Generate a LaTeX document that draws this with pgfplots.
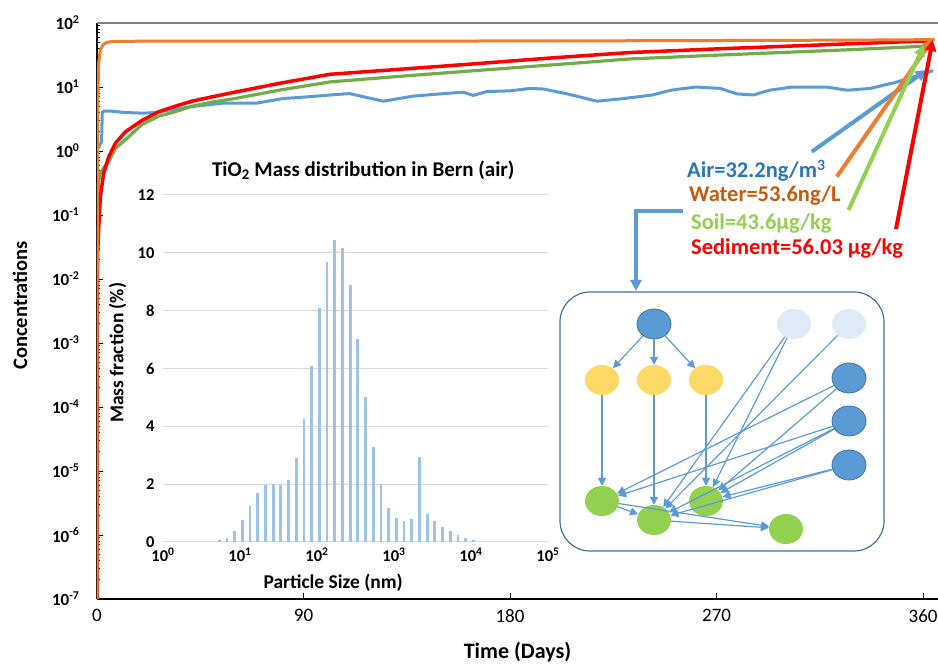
\documentclass[border=0pt]{standalone}
\usepackage{fontspec}
\setmainfont{Carlito}
\usepackage{pgfplots}
\pgfplotsset{compat=1.18}
\usetikzlibrary{arrows.meta,shapes.geometric}

\definecolor{airblue}{HTML}{5B9BD5}
\definecolor{airtext}{HTML}{2E75B6}
\definecolor{waterorange}{HTML}{ED7D31}
\definecolor{watertext}{HTML}{C55A11}
\definecolor{soilgreen}{HTML}{70AD47}
\definecolor{soillight}{HTML}{92D050}
\definecolor{sedred}{HTML}{FF0000}
\definecolor{barblue}{HTML}{9DC3E6}
\definecolor{paleblue}{HTML}{DEEBF7}
\definecolor{nodeyellow}{HTML}{FFD966}
\definecolor{edgeblue}{HTML}{41719C}
\definecolor{gridgray}{HTML}{D9D9D9}

\begin{document}
\begin{tikzpicture}[x=1pt,y=1pt]
\useasboundingbox (0,0) rectangle (938,664);

% ---------------- main time series (log scale) ----------------
\begin{axis}[
  name=main,
  at={(97pt,65pt)}, anchor=south west,
  scale only axis, width=841pt, height=576pt,
  xmin=0, xmax=366.5,
  ymode=log, ymin=1e-7, ymax=1e2,
  axis x line*=bottom, axis y line*=left,
  x axis line style={-, line width=2pt, black},
  y axis line style={-, line width=1.5pt, black},
  tick align=inside,
  major tick length=6pt, minor tick length=3.5pt,
  every tick/.style={black, line width=1pt},
  xtick={0,90,180,270,360},
  xticklabels={0,90,180,270,360},
  xticklabel style={font=\fontsize{19}{22}\selectfont, yshift=-7pt},
  ytick={1e-7,1e-6,1e-5,1e-4,1e-3,1e-2,1e-1,1,10,100},
  yticklabels={10\textsuperscript{-7},10\textsuperscript{-6},10\textsuperscript{-5},10\textsuperscript{-4},10\textsuperscript{-3},10\textsuperscript{-2},10\textsuperscript{-1},10\textsuperscript{0},10\textsuperscript{1},10\textsuperscript{2}},
  yticklabel style={font=\bfseries\fontsize{17}{20}\selectfont, xshift=-14pt},
  minor ytick={2e-7,3e-7,4e-7,5e-7,6e-7,7e-7,8e-7,9e-7,
               2e-6,3e-6,4e-6,5e-6,6e-6,7e-6,8e-6,9e-6,
               2e-5,3e-5,4e-5,5e-5,6e-5,7e-5,8e-5,9e-5,
               2e-4,3e-4,4e-4,5e-4,6e-4,7e-4,8e-4,9e-4,
               2e-3,3e-3,4e-3,5e-3,6e-3,7e-3,8e-3,9e-3,
               2e-2,3e-2,4e-2,5e-2,6e-2,7e-2,8e-2,9e-2,
               0.2,0.3,0.4,0.5,0.6,0.7,0.8,0.9,
               2,3,4,5,6,7,8,9,
               20,30,40,50,60,70,80,90},
  xlabel={Time (Days)},
  xlabel style={font=\bfseries\fontsize{22}{26}\selectfont, at={(axis description cs:0.5,-0.092)}, anchor=center},
  ylabel={Concentrations},
  ylabel style={font=\bfseries\fontsize{20.5}{24}\selectfont, at={(axis description cs:-0.0916,0.51)}, anchor=center},
]
% Air
\addplot[airblue, line width=3pt, line join=round] coordinates {
 (0.6,1.1) (1.5,1.3) (2.0,1.4) (2.3,4.0) (3,4.2) (6,4.2) (12,4.0) (20,3.9)
 (26,4.0) (32,4.4) (40.5,4.9) (55,5.6) (69.6,5.6) (81,6.6) (91.4,7.0)
 (101.5,7.5) (110,7.9) (118,6.8) (124.8,6.0) (137.7,7.2) (149.5,7.8)
 (159.6,8.3) (164,7.4) (170,8.5) (180,8.7) (188.7,9.5) (194.5,9.3)
 (205,7.8) (217.9,6.0) (228,6.5) (242,7.5) (250,8.9) (261,10) (271.5,9.5)
 (279,7.8) (286,7.5) (293,8.9) (303,10) (318,10) (327,8.9) (337,9.5)
 (348.7,12) (358.7,15.5) (364.4,18)
};
% Soil
\addplot[soilgreen, line width=3.2pt, line join=round] coordinates {
 (0,1e-7) (0.03,1e-4) (0.08,5e-3) (0.2,0.05) (0.4,0.2) (0.7,0.33) (1.2,0.42)
 (2.2,0.5) (3.5,0.58) (5.1,0.68) (8,1.1) (12.4,1.5) (19.6,2.6) (26.9,3.5)
 (34,4.1) (41.4,5.0) (50,5.8) (60,6.6) (80,9.0) (101.5,12.0) (130,14.5)
 (160,17.5) (200,22.4) (232,27.4) (270,31.4) (300,34.8) (330,38.5) (362,43.6)
};
% Sediment
\addplot[sedred, line width=3.5pt, line join=round] coordinates {
 (0,1e-7) (0.03,1e-5) (0.06,1e-3) (0.1,7e-3) (0.3,0.025) (0.7,0.059)
 (1.45,0.19) (2.9,0.45) (5.1,0.81) (8,1.32) (12.4,2.0) (19.6,3.0) (26.9,4.1)
 (34,5.0) (41.4,6.0) (50,7.0) (60,8.3) (80,11.5) (101.5,15.8) (130,18.7)
 (160,22.4) (200,28.8) (232,34.5) (270,39.4) (300,43.3) (330,47.6) (363,52.7)
};
% Water
\addplot[waterorange, line width=3pt, line join=round] coordinates {
 (0,1e-7) (0.05,1e-4) (0.1,0.01) (0.2,0.5) (0.3,3) (0.4,7) (0.7,23.6)
 (1.45,38) (2.9,47) (4.5,50) (6.5,51.2) (10,51.8) (30,52) (100,52)
 (200,52.5) (250,53) (330,54) (365,55)
};
% pointers from the end values to their labels
\draw[airblue, line width=4pt, -{Triangle[length=11pt,width=11pt]}]
  (axis cs:311.5,0.975) -- (axis cs:361.6,18.5);
\draw[waterorange, line width=4pt, -{Triangle[length=11pt,width=11pt]}]
  (axis cs:322.4,0.398) -- (axis cs:364.5,57.6);
\draw[soillight, line width=4pt, -{Triangle[length=11pt,width=11pt]}]
  (axis cs:327.5,0.12) -- (axis cs:360.4,45.3);
\draw[sedred, line width=4pt, -{Triangle[length=11pt,width=11pt]}]
  (axis cs:348.2,0.0603) -- (axis cs:364.2,54.2);
\end{axis}

% top frame line
\draw[gray, line width=2pt] (97,641) -- (938,641);

% ---------------- inset: particle size distribution ----------------
\begin{axis}[
  at={(163pt,122pt)}, anchor=south west,
  scale only axis, width=385pt, height=347pt,
  xmode=log, xmin=1, xmax=1e5,
  ymin=0, ymax=12,
  axis line style={draw=none},
  major tick length=0pt, minor tick length=0pt,
  xtick={1,10,100,1000,10000,100000},
  xticklabels={10\textsuperscript{0},10\textsuperscript{1},10\textsuperscript{2},10\textsuperscript{3},10\textsuperscript{4},10\textsuperscript{5}},
  minor xtick={},
  ytick={0,2,4,6,8,10,12},
  yticklabels={0,2,4,6,8,10,12},
  ymajorgrids,
  grid style={gridgray, line width=1pt},
  tick label style={font=\bfseries\fontsize{16.5}{19}\selectfont},
  yticklabel style={xshift=-5pt},
  xticklabel style={yshift=-2pt},
  xlabel={Particle Size (nm)},
  xlabel style={font=\bfseries\fontsize{19.5}{23}\selectfont, at={(axis description cs:0.442,-0.117)}, anchor=center},
  ylabel={Mass fraction (\%)},
  ylabel style={font=\bfseries\fontsize{19.5}{23}\selectfont, at={(axis description cs:-0.118,0.545)}, anchor=center},
  title={TiO\textsubscript{2} Mass distribution in Bern (air)},
  title style={font=\bfseries\fontsize{21}{25}\selectfont, at={(axis description cs:0.52,1.055)}, anchor=center},
]
\addplot[ycomb, barblue, line width=2.8pt] coordinates {
 (5.37,0.06) (6.76,0.15) (8.51,0.38) (10.72,0.75) (13.49,1.25) (16.98,1.70)
 (21.38,1.96) (26.92,2.02) (33.88,1.96) (42.66,2.16) (53.70,2.91) (67.61,4.25)
 (85.11,6.10) (107.2,8.08) (134.9,9.68) (169.8,10.44) (213.8,10.15) (269.2,8.90)
 (338.8,7.02) (426.6,5.00) (537.0,3.28) (676.1,2.00) (851.1,1.18) (1072,0.82)
 (1349,0.72) (1698,0.78) (2138,2.94) (2692,0.97) (3388,0.72) (4266,0.52)
 (5370,0.38) (6761,0.23) (8511,0.13) (10715,0.06)
};
\end{axis}

% ---------------- end-value labels ----------------
\begin{scope}[every node/.style={anchor=base west, inner sep=0pt, font=\bfseries\fontsize{22.5}{26}\selectfont}]
\node[text=airtext]   at (687,486) {Air=32.2ng/m\textsuperscript{3}};
\node[text=watertext] at (689,462.3) {Water=53.6ng/L};
\node[text=soillight] at (691,434) {Soil=43.6µg/kg};
\node[text=sedred]    at (691,409) {Sediment=56.03 µg/kg};
\end{scope}

% pointer into the compartment scheme
\draw[airblue, line width=4pt, -{Triangle[length=11pt,width=11pt]}]
  (683,453) -- (636,453) -- (636,373);

% ---------------- compartment scheme ----------------
\draw[edgeblue, line width=1.2pt, rounded corners=30pt] (560,372) rectangle (884,113);

\begin{scope}[every node/.style={ellipse, minimum width=34pt, minimum height=30pt, inner sep=0pt}]
\node[fill=airblue, draw=edgeblue, line width=0.8pt] (T)   at (654,340) {};
\node[fill=paleblue]                                 (LB1) at (794,340) {};
\node[fill=paleblue]                                 (LB2) at (849,340) {};
\node[fill=nodeyellow]                               (Y1)  at (602,284) {};
\node[fill=nodeyellow]                               (Y2)  at (654,284) {};
\node[fill=nodeyellow]                               (Y3)  at (706,284) {};
\node[fill=airblue, draw=edgeblue, line width=0.8pt] (D1)  at (849,286) {};
\node[fill=airblue, draw=edgeblue, line width=0.8pt] (D2)  at (849,243) {};
\node[fill=airblue, draw=edgeblue, line width=0.8pt] (D3)  at (849,199) {};
\node[fill=soillight]                                (G1)  at (602,163) {};
\node[fill=soillight]                                (G2)  at (654,144) {};
\node[fill=soillight]                                (G3)  at (706,163) {};
\node[fill=soillight]                                (G4)  at (786,135) {};
\end{scope}

\begin{scope}[airblue, line width=1.2pt, -{Triangle[length=8pt,width=8pt]}]
\draw (T) -- (Y1);
\draw (T) -- (Y2);
\draw (T) -- (Y3);
\draw (Y1) -- (G1);
\draw (Y2) -- (G2);
\draw (Y3) -- (G3);
\draw (LB1) -- (G2);
\draw (LB1) -- (G3);
\draw (LB2) -- (G2);
\draw (D1) -- (G1);
\draw (D1) -- (G3);
\draw (D2) -- (G1);
\draw (D2) -- (G2);
\draw (D2) -- (G3);
\draw (D3) -- (G3);
\draw (D3) -- (G2);
\draw (G1) -- (G2);
\draw (G1) -- (G4);
\draw (G2) -- (G4);
\end{scope}

\end{tikzpicture}
\end{document}
